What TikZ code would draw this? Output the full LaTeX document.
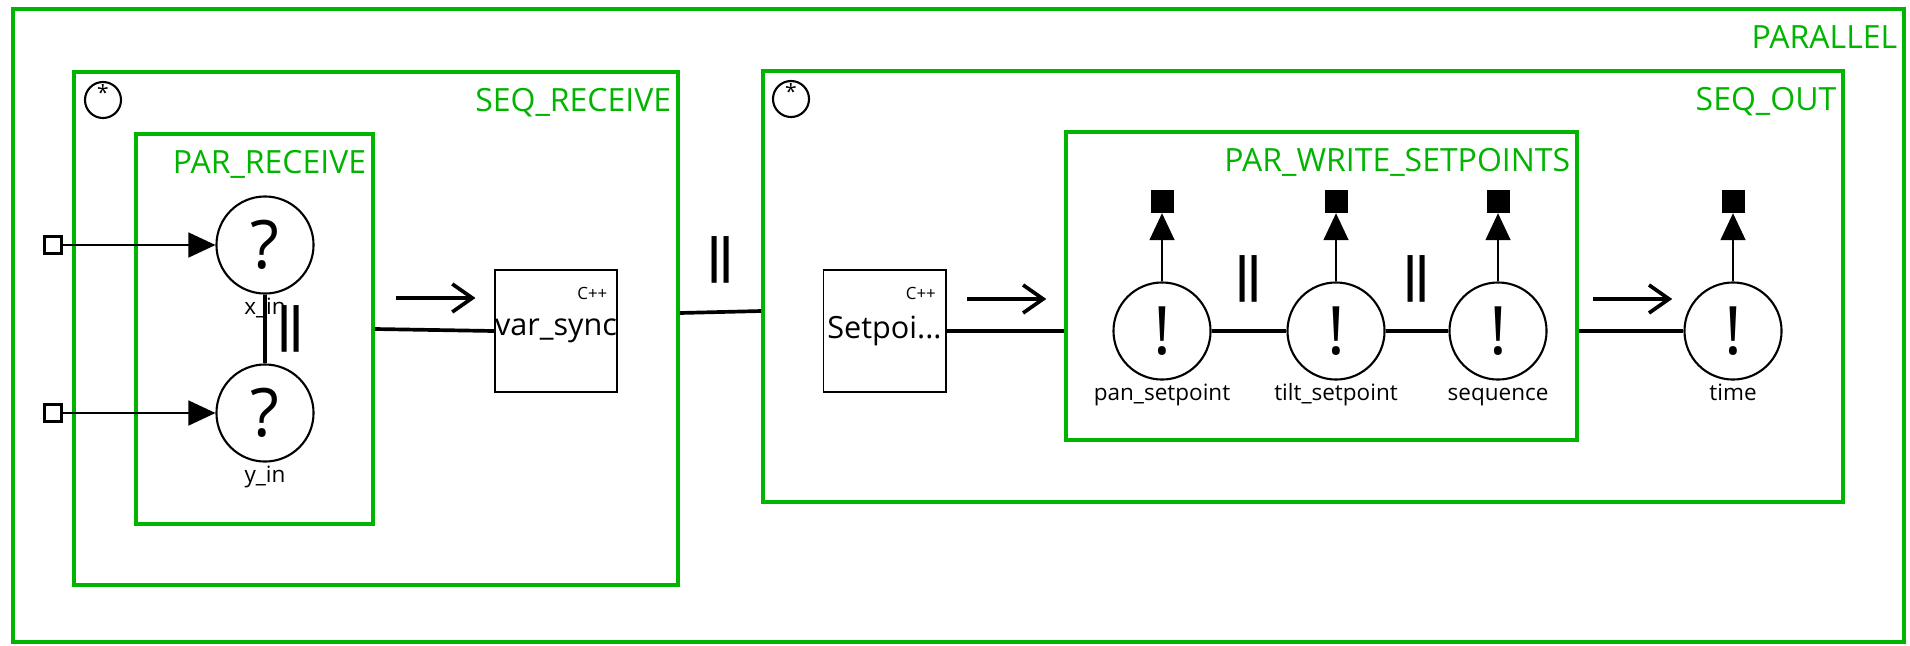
\documentclass[tikz,border=0pt]{standalone}
\usepackage{fontspec}
\setmainfont{Open Sans}
\usepackage{tikz}
\usetikzlibrary{arrows.meta, positioning, calc, fit}
\definecolor{grpgreen}{RGB}{0,180,0}
\tikzset{
  grp/.style     = {draw=grpgreen, line width=1.1pt, inner sep=0pt},
  grplab/.style  = {text=grpgreen, font=\fontsize{9.1}{10}\selectfont,
                    anchor=base east, inner sep=0pt},
  proc/.style    = {draw=black, line width=0.55pt, minimum size=1.22cm,
                    font=\fontsize{8.7}{10}\selectfont, inner sep=0pt},
  cpp/.style     = {font=\fontsize{4.8}{5}\selectfont, inner sep=0pt, anchor=north east},
  chan/.style    = {circle, draw=black, line width=0.6pt, minimum size=0.97cm,
                    inner sep=0pt, font=\fontsize{19}{20}\selectfont},
  rep/.style     = {circle, draw=black, line width=0.6pt, minimum size=0.36cm,
                    inner sep=0pt, font=\fontsize{6}{6}\selectfont, text depth=0.45em},
  lab/.style     = {font=\fontsize{6.4}{7}\selectfont, anchor=base, inner sep=0pt},
  inport/.style  = {draw=black, line width=0.85pt, minimum size=0.17cm, inner sep=0pt},
  outport/.style = {fill=black, minimum size=0.23cm, inner sep=0pt},
  wire/.style    = {line width=1.05pt},
  sig/.style     = {-{Triangle[length=0.27cm, width=0.25cm]}, line width=0.45pt},
  flow/.style    = {-{Straight Barb[length=0.2cm, width=0.28cm]}, line width=1.05pt},
  par/.style     = {font=\fontsize{13.5}{13.5}\selectfont\bfseries, inner sep=0pt},
}
\newcommand{\parbars}{|\kern-0.3em|}

\begin{document}
\begin{tikzpicture}[x=0.01cm, y=-0.01cm]
  \useasboundingbox (0,0) rectangle (1910,645);

  % groups
  \node[grp, fit={(13,9) (1904,642)}] (parallel) {};
  \node[grp, fit={(74,72) (678,585)}] (seqrecv) {};
  \node[grp, fit={(136,134) (373,524)}] (parrecv) {};
  \node[grp, fit={(763,71) (1843,502)}] (seqout) {};
  \node[grp, fit={(1066,132) (1577,440)}] (parwrite) {};
  \foreach \g/\t in {parallel/PARALLEL, seqrecv/SEQ\_RECEIVE, parrecv/PAR\_RECEIVE,
                     seqout/SEQ\_OUT, parwrite/PAR\_WRITE\_SETPOINTS}
    \node[grplab] (\g lab) at ([shift={(-0.08cm,-0.41cm)}]\g.north east) {\t};
  \node[rep] (seqrecvrep) at (103,100) {*};
  \node[rep] (seqoutrep) at (791,99) {*};

  % receive side
  \node[chan] (xin) at (265,245) {?};
  \node[chan] (yin) at (265,413) {?};
  \node[inport] (inx) at (53,245) {};
  \node[inport] (iny) at (53,413) {};
  \node[lab] (xinlab) at ([yshift=-0.69cm]xin.center) {x\_in};
  \node[lab] (yinlab) at ([yshift=-0.69cm]yin.center) {y\_in};
  \draw[sig] (inx) -- (xin);
  \draw[sig] (iny) -- (yin);
  \draw[wire] (xin) -- node[par, right=0.05cm] (xinpar) {\parbars} (yin);

  \node[proc] (varsync) at (556,331) {var\_sync};
  \node[cpp] (varsynccpp) at ([shift={(-0.1cm,-0.18cm)}]varsync.north east) {C++};
  \draw[wire] (parrecv.east) -- coordinate[midway] (f1) (varsync.west);

  % output side
  \node[proc] (setpoi) at (884.5,331) {Setpoi...};
  \node[cpp] (setpoicpp) at ([shift={(-0.1cm,-0.18cm)}]setpoi.north east) {C++};
  \foreach \c/\x/\t in {pan/1162/pan\_setpoint, tilt/1336/tilt\_setpoint,
                        seq/1498/sequence, time/1733/time} {
    \node[chan] (\c) at (\x,331) {!};
    \node[outport] (\c port) at (\x,201) {};
    \node[lab] (\c lab) at ([yshift=-0.69cm]\c.center) {\t};
    \draw[sig] (\c) -- (\c port);
  }
  \draw[wire] (pan) -- node[par, above=0.27cm] (panpar) {\parbars} (tilt);
  \draw[wire] (tilt) -- node[par, above=0.27cm] (tiltpar) {\parbars} (seq);
  \draw[wire] (setpoi.east) -- coordinate[midway] (f2) (setpoi.east -| parwrite.west);
  \draw[wire] (time.west -| parwrite.east) -- coordinate[midway] (f3) (time);

  \draw[wire] ([yshift=0.155cm]seqrecv.east)
    -- node[par, above=0.27cm] (seqpar) {\parbars} ([yshift=-0.245cm]seqout.west);

  % direction marks
  \foreach \f in {f1,f2,f3}
    \draw[flow] ([shift={(-0.38cm,0.32cm)}]\f) -- ++(0.79cm,0);
\end{tikzpicture}
\end{document}
